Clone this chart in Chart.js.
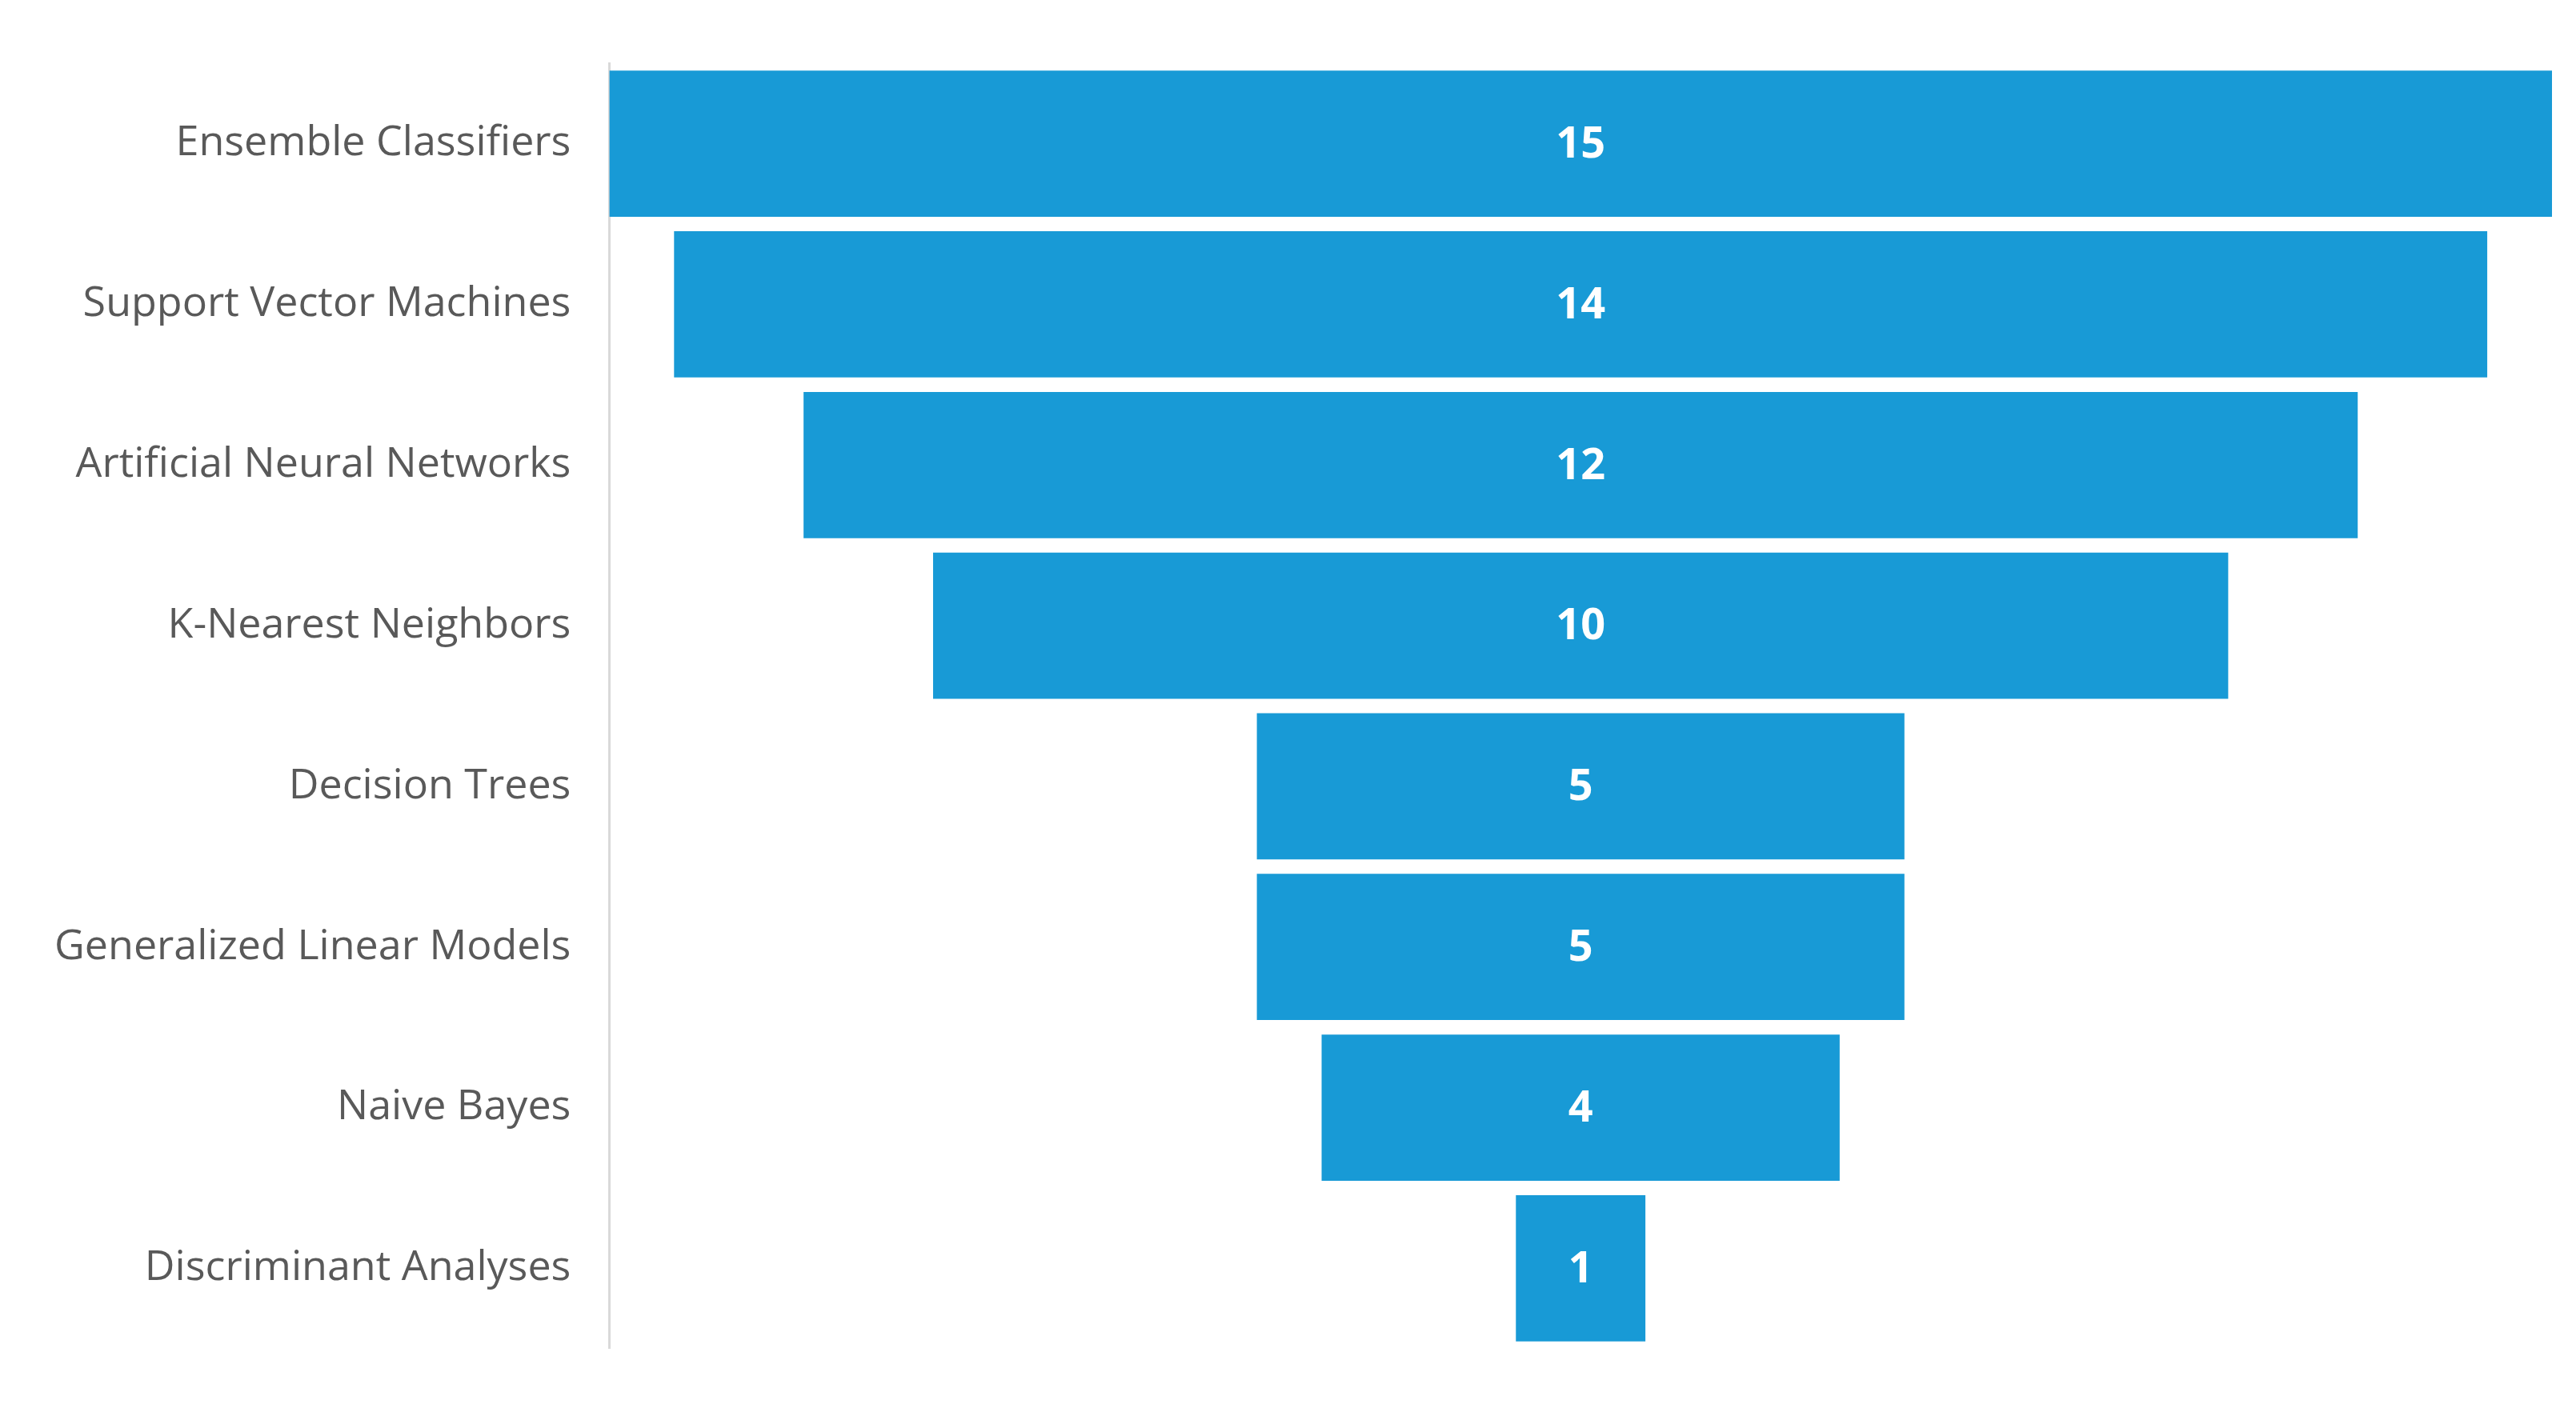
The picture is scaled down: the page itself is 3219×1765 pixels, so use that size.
<!DOCTYPE html>
<html>
<head>
<meta charset="utf-8">
<script src="https://cdn.jsdelivr.net/npm/chart.js@4"></script>
<style>
  html, body { margin: 0; padding: 0; background: #fff; }
  #wrap { width: 3219px; height: 1765px; }
</style>
</head>
<body>
<div id="wrap"><canvas id="funnel" width="3219" height="1765"></canvas></div>
<script>
// funnel: each bar centred on the middle of the widest one
const categories = ['Ensemble Classifiers', 'Support Vector Machines', 'Artificial Neural Networks',
  'K-Nearest Neighbors', 'Decision Trees', 'Generalized Linear Models', 'Naive Bayes', 'Discriminant Analyses'];
const counts = [15, 14, 12, 10, 5, 5, 4, 1];

const maxCount = Math.max(...counts);
const centre = maxCount / 2;
const ranges = counts.map(v => [centre - v / 2, centre + v / 2]);

// write the count in the middle of each bar
const valueLabels = {
  id: 'valueLabels',
  afterDatasetsDraw(chart) {
    const ctx = chart.ctx;
    const meta = chart.getDatasetMeta(0);
    ctx.save();
    ctx.fillStyle = '#ffffff';
    ctx.font = 'bold 54px "Open Sans", sans-serif';
    ctx.textAlign = 'center';
    ctx.textBaseline = 'middle';
    meta.data.forEach((bar, i) => {
      const x = (bar.x + bar.base) / 2;
      ctx.fillText(String(counts[i]), x, bar.y + 2);
    });
    ctx.restore();
  }
};

new Chart(document.getElementById('funnel').getContext('2d'), {
  type: 'bar',
  data: {
    labels: categories,
    datasets: [{
      data: ranges,
      backgroundColor: '#189ad6',
      borderWidth: 0,
      barPercentage: 0.91,
      categoryPercentage: 1
    }]
  },
  options: {
    indexAxis: 'y',
    responsive: false,
    animation: false,
    layout: { padding: { top: 30, bottom: 30, right: 30, left: 20 } },
    plugins: { legend: { display: false }, tooltip: { enabled: false } },
    scales: {
      x: { display: false, min: 0, max: maxCount },
      y: {
        grid: { display: false, drawTicks: false },
        border: { display: true, color: '#d9d9d9', width: 3 },
        ticks: {
          color: '#595959',
          padding: 48,
          font: { family: '"Open Sans", sans-serif', size: 52 }
        }
      }
    }
  },
  plugins: [valueLabels]
});
</script>
</body>
</html>
